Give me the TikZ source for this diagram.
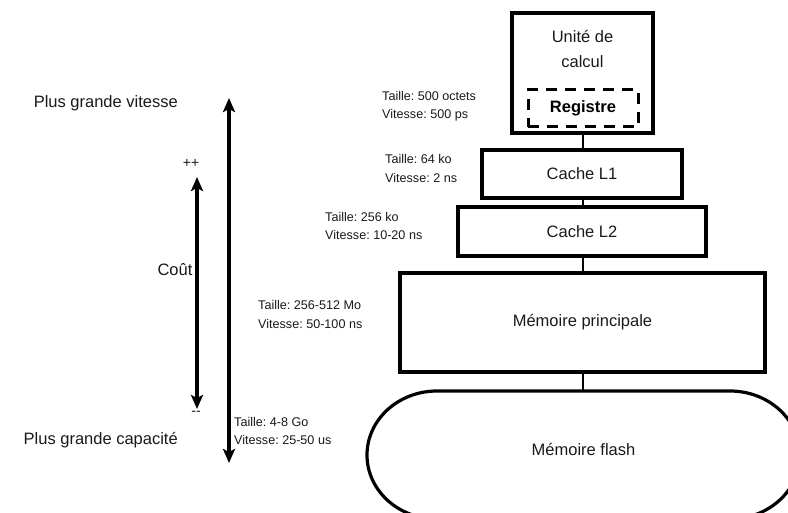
\documentclass[tikz,border=0pt]{standalone}
\usepackage{fontspec}
\setmainfont{Liberation Sans}
\usetikzlibrary{arrows.meta}
\frenchspacing
\tikzset{
  box/.style={draw=black, line width=3.2pt, inner sep=0pt},
  btext/.style={font=\fontsize{16.5}{25}\selectfont, text=black!90, inner sep=0pt},
  side/.style={font=\fontsize{12.6}{18.5}\selectfont, align=left, anchor=west, inner sep=0pt, text=black!90},
  conn/.style={draw=black, line width=1.5pt},
  bigarrow/.style={line width=3.4pt, {Stealth[length=14pt,width=12pt,inset=3pt]}-{Stealth[length=14pt,width=12pt,inset=3pt]}},
  small/.style={font=\fontsize{14}{16}\selectfont, inner sep=0pt, text=black!90}
}
\begin{document}
\begin{tikzpicture}[x=1pt,y=-1pt]
\useasboundingbox (0,0) rectangle (788,513);
% boxes
\node[box, minimum width=141pt, minimum height=120pt] (cpu) at (582.5,73) {};
\node[btext, align=center] (cputext) at (582.5,49.5) {Unité de\\calcul};
\node[draw=black, line width=3pt, dash pattern=on 11pt off 8pt, minimum width=110pt, minimum height=37pt, inner sep=0pt, font=\fontsize{16.5}{20}\selectfont\bfseries] (reg) at (583,108.5) {Registre};
\node[box, btext, minimum width=200pt, minimum height=48pt] (l1) at (582,174) {Cache L1};
\node[box, btext, minimum width=248pt, minimum height=49pt] (l2) at (582,231.5) {Cache L2};
\node[box, btext, minimum width=365pt, minimum height=99pt] (mem) at (582.5,322.5) {Mémoire principale};
% flash (stadium, clipped by the page)
\draw[line width=3.2pt] (437,391) -- (730,391) arc[start angle=-90, end angle=90, x radius=70, y radius=64] -- (437,519) arc[start angle=90, end angle=270, x radius=70, y radius=64];
\node[btext] (flash) at (583.5,450) {Mémoire flash};
\coordinate (flashtop) at (583,391);
% connectors
\draw[conn] (cpu.south -| 583,0) -- (l1.north -| 583,0);
\draw[conn] (l1.south -| 583,0) -- (l2.north -| 583,0);
\draw[conn] (l2.south -| 583,0) -- (mem.north -| 583,0);
\draw[conn] (mem.south -| 583,0) -- (flashtop);
% side labels
\node[side] (s1) at (382,106) {Taille: 500 octets\\Vitesse: 500 ps};
\node[side] (s2) at (385,168.5) {Taille: 64 ko\\Vitesse: 2 ns};
\node[side] (s3) at (325,226) {Taille: 256 ko\\Vitesse: 10-20 ns};
\node[side] (s4) at (258,314.5) {Taille: 256-512 Mo\\Vitesse: 50-100 ns};
\node[side] (s5) at (234,431) {Taille: 4-8 Go\\Vitesse: 25-50 us};
% left texts
\node[btext, anchor=east] (vit) at (178,103) {Plus grande vitesse};
\node[btext] (cout) at (175,270) {Coût};
\node[btext, anchor=east] (cap) at (178,440) {Plus grande capacité};
% arrows
\coordinate (a1) at (229,98);
\coordinate (a2) at (229,463);
\draw[bigarrow] (a1) -- (a2);
\coordinate (b1) at (197,177);
\coordinate (b2) at (197,409);
\draw[bigarrow] (b1) -- (b2);
\node[small] (pp) at (191,163) {++};
\node[small] (mm) at (196,413) {{-}{-}};
\end{tikzpicture}
\end{document}
